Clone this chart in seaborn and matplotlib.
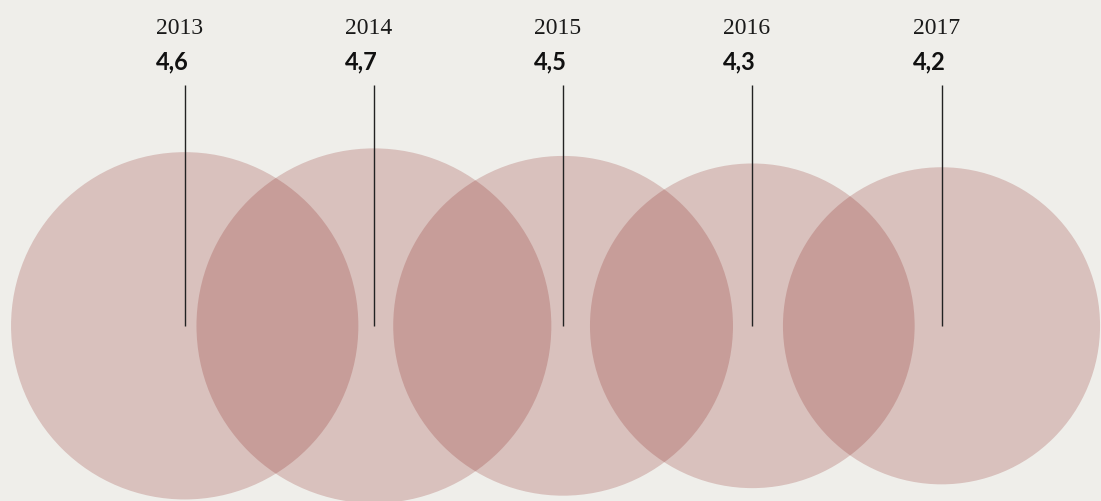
"""Overlapping circles: yearly values, radius proportional to value."""

import matplotlib
matplotlib.use("Agg")
import matplotlib.pyplot as plt
import numpy as np
import pandas as pd
import seaborn as sns

YEARS = ["2013", "2014", "2015", "2016", "2017"]
VALUES = [4.6, 4.7, 4.5, 4.3, 4.2]
VALUE_LABELS = ["4,6", "4,7", "4,5", "4,3", "4,2"]

BG = "#efeeea"
CIRCLE_COLOR = "#810d09"
LINE_COLOR = "#222222"

# layout, in pixels of the 1101x501 canvas
WIDTH, HEIGHT, DPI = 1101, 501, 100
STEP_PX = 189.2          # distance between circle centres
FIRST_PX = 184.7         # centre of the first circle
CENTER_Y = 325.8
PX_PER_UNIT = 37.75      # circle radius per value unit

sns.set_theme(style="white", rc={"figure.facecolor": BG, "axes.facecolor": BG})

df = pd.DataFrame({"year": YEARS, "value": VALUES, "label": VALUE_LABELS})
df["pos"] = np.arange(len(df))
df["y"] = CENTER_Y
radius_pt = df["value"] * PX_PER_UNIT * 72 / DPI
df["size"] = (2 * radius_pt) ** 2

fig = plt.figure(figsize=(WIDTH / DPI, HEIGHT / DPI), dpi=DPI)
ax = fig.add_axes([0, 0, 1, 1])

sns.scatterplot(data=df, x="pos", y="y", s=df["size"].to_numpy(), color=CIRCLE_COLOR,
                alpha=0.2, linewidth=0, legend=False, ax=ax)

ax.vlines(df["pos"], ymin=85, ymax=326, color=LINE_COLOR, linewidth=1.0)

offset = -29 / STEP_PX
for _, row in df.iterrows():
    ax.text(row["pos"] + offset, 34, row["year"], ha="left", va="baseline",
            fontsize=17, family="Liberation Serif", color="#1a1a1a")
    ax.text(row["pos"] + offset, 69, row["label"], ha="left", va="baseline",
            fontsize=17, family="Lato", fontweight="bold", color="#111111")

ax.set_xlim(-FIRST_PX / STEP_PX, (WIDTH - FIRST_PX) / STEP_PX)
ax.set_ylim(HEIGHT, 0)
ax.set_axis_off()

fig.savefig("out.png", dpi=DPI, facecolor=BG)
plt.close(fig)
